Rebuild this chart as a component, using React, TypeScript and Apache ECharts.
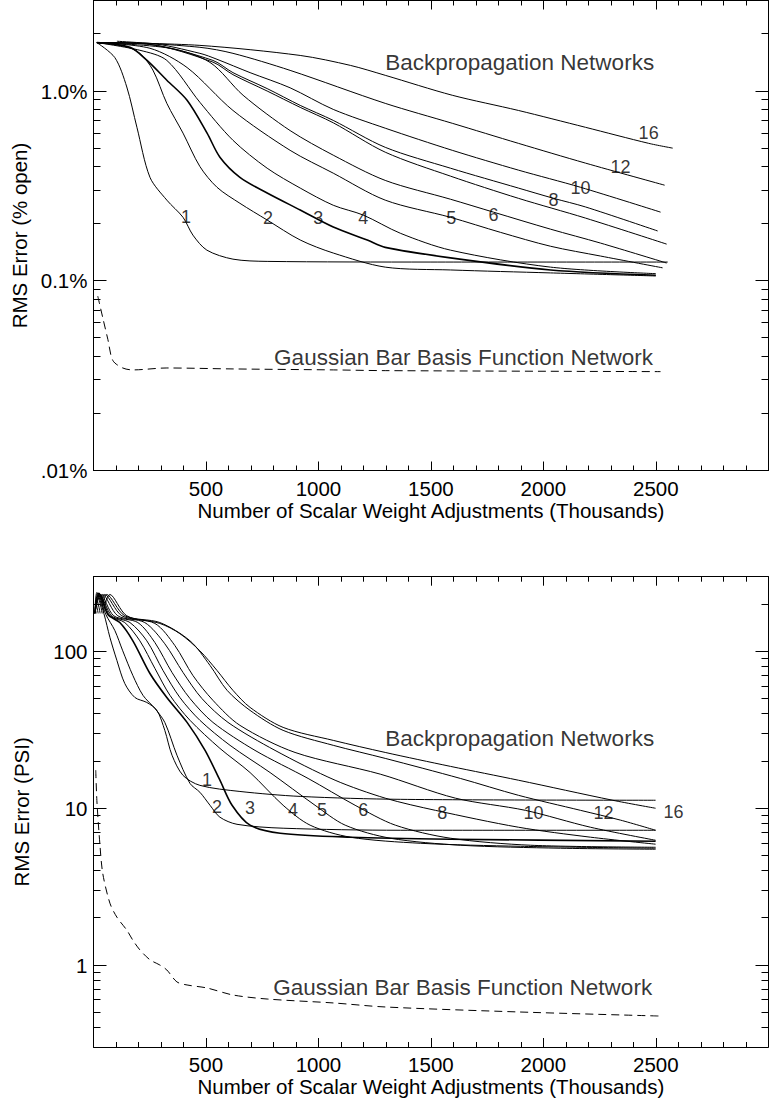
import React, { useEffect, useRef } from 'react';
import * as echarts from 'echarts';

const FONT = '"Liberation Sans", Arial, Helvetica, sans-serif';
const X_TITLE = 'Number of Scalar Weight Adjustments (Thousands)';

// ---------- tick labels / tick values ----------
const xTickLabels = [500, 1000, 1500, 2000, 2500];
const topYDecades = [0.01, 0.1, 1];
const topYLabels = ['.01%', '0.1%', '1.0%'];
const bottomYDecades = [1, 10, 100];
const bottomYLabels = ['1', '10', '100'];
const topYMinor = [0.02, 0.03, 0.04, 0.05, 0.06, 0.07, 0.08, 0.09, 0.2, 0.3, 0.4, 0.5, 0.6, 0.7, 0.8, 0.9, 2];
const bottomYMinor = [0.4, 0.5, 0.6, 0.7, 0.8, 0.9, 2, 3, 4, 5, 6, 7, 8, 9, 20, 30, 40, 50, 60, 70, 80, 90, 200];

// ---------- top panel: RMS error (% open) vs thousands of weight adjustments ----------
const topN1 = [[15, 1.8], [95, 1.5], [148, 1.05], [193, 0.644], [251, 0.351], [326, 0.266], [398, 0.216], [442, 0.174], [504, 0.145], [620, 0.13], [772, 0.1265], [1500, 0.1255], [2553, 0.1255]];
const topN2 = [[15, 1.8], [139, 1.72], [206, 1.58], [264, 1.29], [326, 0.861], [398, 0.6], [473, 0.4], [549, 0.311], [651, 0.256], [772, 0.209], [919, 0.164], [1066, 0.14], [1297, 0.118], [1587, 0.114], [2032, 0.11], [2500, 0.106]];
const topN3 = [[15, 1.8], [162, 1.7], [238, 1.45], [326, 1.14], [416, 0.894], [505, 0.6], [562, 0.448], [651, 0.351], [772, 0.29], [919, 0.236], [1066, 0.192], [1217, 0.164], [1297, 0.15], [1587, 0.132], [2032, 0.114], [2500, 0.107]];
const topN4 = [[15, 1.8], [206, 1.64], [326, 1.45], [473, 0.872], [620, 0.55], [772, 0.392], [919, 0.308], [1066, 0.25], [1199, 0.222], [1364, 0.178], [1587, 0.145], [2032, 0.118], [2500, 0.109]];
const topN5 = [[15, 1.8], [251, 1.68], [416, 1.33], [620, 0.79], [874, 0.487], [1066, 0.369], [1297, 0.266], [1587, 0.216], [1809, 0.18], [2032, 0.152], [2254, 0.135], [2530, 0.117]];
const topN6 = [[15, 1.8], [340, 1.68], [518, 1.415], [665, 0.95], [874, 0.619], [1066, 0.459], [1297, 0.338], [1587, 0.269], [1778, 0.23], [2032, 0.187], [2254, 0.158], [2548, 0.124]];
const topN7 = [[15, 1.8], [251, 1.76], [531, 1.42], [620, 1.22], [772, 1.0], [919, 0.82], [1066, 0.68], [1297, 0.476], [1587, 0.356], [1889, 0.272], [2187, 0.214], [2548, 0.156]];
const topN8 = [[15, 1.8], [251, 1.76], [531, 1.45], [620, 1.25], [772, 1.03], [919, 0.84], [1066, 0.7], [1297, 0.505], [1587, 0.392], [1889, 0.308], [2045, 0.272], [2187, 0.245], [2508, 0.183]];
const topN10 = [[15, 1.8], [251, 1.78], [473, 1.58], [549, 1.47], [696, 1.25], [874, 1.04], [1066, 0.8], [1297, 0.637], [1595, 0.487], [1889, 0.383], [2165, 0.311], [2521, 0.23]];
const topN12 = [[104, 1.83], [473, 1.7], [620, 1.58], [874, 1.285], [1297, 0.861], [1595, 0.676], [1889, 0.53], [2187, 0.417], [2539, 0.319]];
const topN16 = [[73, 1.8], [473, 1.74], [919, 1.54], [1142, 1.365], [1297, 1.21], [1595, 0.95], [1889, 0.79], [2187, 0.644], [2468, 0.53], [2575, 0.5]];
const topGauss = [[19, 0.083], [41, 0.064], [64, 0.049], [86, 0.038], [130, 0.0347], [175, 0.0339], [326, 0.0347], [620, 0.0343], [1066, 0.0339], [1297, 0.0336], [2521, 0.0332]];

// ---------- bottom panel: RMS error (PSI) ----------
const botN1 = [[6, 175], [15, 238], [46, 175], [73, 123], [104, 87.7], [139, 62.5], [184, 50.9], [237, 47.3], [282, 42.1], [317, 31.4], [349, 21.8], [398, 16.2], [473, 14.0], [651, 12.8], [919, 11.9], [1364, 11.4], [2499, 11.25]];
const botN2 = [[6, 175], [19, 235], [55, 172], [95, 136], [130, 101], [175, 70.3], [220, 52.5], [273, 43.3], [317, 35.3], [371, 21.8], [429, 14.4], [473, 12.65], [518, 10.45], [562, 8.77], [638, 7.9], [843, 7.46], [1364, 7.24], [2499, 7.24]];
const botN3 = [[6, 175], [24, 235], [64, 172], [117, 153], [175, 117], [251, 72.4], [326, 50.9], [416, 35.3], [496, 23.4], [562, 15.1], [616, 10.45], [696, 7.8], [830, 6.93], [1142, 6.54], [1587, 6.35], [2499, 6.16]];
const botN4 = [[6, 175], [28, 231], [73, 169], [139, 153], [206, 117], [273, 78], [340, 52.5], [429, 36.4], [562, 24.1], [696, 16.9], [843, 10.45], [963, 7.8], [1142, 6.54], [1453, 5.98], [1898, 5.72], [2499, 5.56]];
const botN5 = [[6, 175], [28, 231], [81, 169], [162, 153], [237, 117], [309, 75.7], [384, 50.9], [473, 36.4], [607, 25.2], [785, 16.9], [985, 10.45], [1119, 7.8], [1320, 6.44], [1631, 5.81], [2076, 5.56], [2499, 5.48]];
const botN6 = [[6, 175], [33, 231], [90, 169], [197, 153], [273, 114], [349, 73.5], [429, 50.1], [531, 35.3], [718, 23.4], [954, 15.5], [1163, 10.45], [1342, 7.8], [1587, 6.44], [1943, 5.81], [2499, 5.64]];
const botN8 = [[15, 175], [41, 231], [108, 169], [228, 153], [317, 112], [398, 73.5], [482, 50.1], [598, 35.3], [807, 23.4], [1074, 15.1], [1297, 11.6], [1520, 9.7], [1889, 7.57], [2209, 6.54], [2499, 5.9]];
const botN10 = [[24, 175], [50, 231], [126, 169], [273, 151], [362, 109], [442, 70.3], [531, 48.8], [651, 33.8], [896, 22.7], [1275, 16.5], [1609, 11.6], [1920, 9.7], [2209, 7.57], [2499, 6.25]];
const botN12 = [[33, 175], [59, 231], [139, 169], [295, 153], [429, 117], [518, 81.5], [594, 56.5], [696, 42.1], [843, 31.4], [1066, 25.2], [1297, 20.8], [1631, 15.5], [1889, 12.1], [2165, 9.7], [2343, 8.4], [2499, 7.24]];
const botN16 = [[41, 175], [73, 231], [148, 169], [295, 151], [384, 130], [473, 101], [549, 75.7], [620, 56.5], [696, 44.0], [843, 32.8], [1066, 27.1], [1297, 22.7], [1587, 18.5], [1889, 15.1], [2308, 11.25], [2499, 10.0]];
const botGauss = [[10, 17.5], [15, 11.2], [28, 6.0], [41, 3.85], [73, 2.48], [104, 2.02], [148, 1.67], [175, 1.44], [206, 1.25], [251, 1.08], [295, 1.0], [326, 0.93], [371, 0.78], [416, 0.746], [504, 0.714], [620, 0.644], [772, 0.607], [1066, 0.573], [1297, 0.54], [1889, 0.502], [2512, 0.473]];

const topCurves = [topN1, topN2, topN3, topN4, topN5, topN6, topN7, topN8, topN10, topN12, topN16];
const topThick = [false, false, true, false, false, false, false, false, false, false, false];
const botCurves = [botN1, botN2, botN3, botN4, botN5, botN6, botN8, botN10, botN12, botN16];
const botThick = [false, false, true, false, false, false, false, false, false, false];

// ---------- annotations (anchor in data units) ----------
const topCurveNames = ['1', '2', '3', '4', '5', '6', '8', '10', '12', '16'];
const topCurveNameAt = [[411, 0.216], [776, 0.214], [999, 0.214], [1199, 0.214], [1591, 0.214], [1778, 0.222], [2045, 0.266], [2165, 0.308], [2343, 0.397], [2468, 0.6]];
const botCurveNames = ['1', '2', '3', '4', '5', '6', '8', '10', '12', '16'];
const botCurveNameAt = [[505, 15.1], [549, 10.15], [696, 10.0], [887, 9.7], [1016, 9.7], [1199, 9.7], [1551, 9.3], [1956, 9.3], [2267, 9.3], [2579, 9.45]];
const groupTitles = ['Backpropagation Networks', 'Gaussian Bar Basis Function Network'];
const topTitleAt = [[1297, 1.416], [803, 0.0392]];
const botTitleAt = [[1297, 27.9], [799, 0.724]];

const BLACK = '#000';
const X_MIN = 0;
const X_MAX = 3000;
const PX_PER_X = 674.8 / 3000;

function xAxes(gi: number) {
  const base: any = {
    gridIndex: gi, type: 'value', min: X_MIN, max: X_MAX, interval: 500,
    axisLine: { show: true, onZero: false, lineStyle: { color: BLACK, width: 1 } },
    axisTick: { show: true, inside: true, length: 9, lineStyle: { color: BLACK, width: 1 } },
    minorTick: { show: true, splitNumber: 5, length: 5, lineStyle: { color: BLACK, width: 1 } },
    splitLine: { show: false }, minorSplitLine: { show: false },
  };
  return [
    {
      ...base, position: 'bottom',
      axisLabel: {
        show: true, margin: 7, color: BLACK, fontSize: 20.5, fontFamily: FONT,
        formatter: (v: number) => (xTickLabels.indexOf(Math.round(v)) >= 0 ? String(Math.round(v)) : ''),
      },
      name: X_TITLE, nameLocation: 'middle', nameGap: 29,
      nameTextStyle: { color: BLACK, fontSize: 20.5, fontFamily: FONT },
    },
    { ...base, position: 'top', axisLabel: { show: false } },
  ];
}

function yAxes(gi: number, min: number, max: number, decades: number[], labels: string[], name: string) {
  const fmt = (v: number) => {
    for (let i = 0; i < decades.length; i++) {
      if (Math.abs(Math.log10(v) - Math.log10(decades[i])) < 1e-6) return labels[i];
    }
    return '';
  };
  const base: any = {
    gridIndex: gi, type: 'log', logBase: 10, min, max,
    axisLine: { show: true, onZero: false, lineStyle: { color: BLACK, width: 1 } },
    axisTick: { show: false }, minorTick: { show: false },
    splitLine: { show: false }, minorSplitLine: { show: false },
  };
  return [
    {
      ...base, position: 'left',
      axisLabel: { show: true, margin: 6, color: BLACK, fontSize: 20.5, fontFamily: FONT, formatter: fmt },
      name, nameLocation: 'middle', nameGap: 62,
      nameTextStyle: { color: BLACK, fontSize: 20.5, fontFamily: FONT },
    },
    { ...base, position: 'right', axisLabel: { show: false } },
  ];
}

// y-axis tick marks (log spaced), placed with the chart's own scale via convertToPixel
function yTickGraphics(chart: any, xi: number, yi: number, yMajor: number[], yMinor: number[]) {
  const finder = { xAxisIndex: xi, yAxisIndex: yi };
  const crisp = (p: number) => Math.round(p - 0.5) + 0.5;
  const out: any[] = [];
  const yt = (v: number, len: number) => {
    const l = chart.convertToPixel(finder, [X_MIN, v]);
    const r = chart.convertToPixel(finder, [X_MAX, v]);
    if (!l || !r) return;
    const y = crisp(l[1]);
    const xl = crisp(l[0]);
    const xr = crisp(r[0]);
    out.push({ type: 'line', silent: true, z: 100, shape: { x1: xl, y1: y, x2: xl + len, y2: y }, style: { stroke: BLACK, lineWidth: 1 } });
    out.push({ type: 'line', silent: true, z: 100, shape: { x1: xr, y1: y, x2: xr - len, y2: y }, style: { stroke: BLACK, lineWidth: 1 } });
  };
  yMajor.forEach((v) => yt(v, 13));
  yMinor.forEach((v) => yt(v, 7));
  return out;
}

// fallback: the same ticks as markLine segments in data coordinates
function yTickMarkLine(yMajor: number[], yMinor: number[]) {
  const data: any[] = [];
  const yt = (v: number, len: number) => {
    const dx = len / PX_PER_X;
    data.push([{ coord: [X_MIN, v] }, { coord: [X_MIN + dx, v] }]);
    data.push([{ coord: [X_MAX, v] }, { coord: [X_MAX - dx, v] }]);
  };
  yMajor.forEach((v) => yt(v, 13));
  yMinor.forEach((v) => yt(v, 7));
  return {
    symbol: ['none', 'none'], silent: true, animation: false, label: { show: false },
    lineStyle: { color: BLACK, width: 1, type: 'solid', opacity: 1 }, emphasis: { disabled: true }, data,
  };
}

function curveSeries(curves: number[][][], thick: boolean[], xi: number, yi: number) {
  return curves.map((d, i) => ({
    type: 'line', xAxisIndex: xi, yAxisIndex: yi, data: d,
    showSymbol: false, symbol: 'none', smooth: 0.3, silent: true,
    lineStyle: { color: BLACK, width: thick[i] ? 1.6 : 1 }, z: 3,
  }));
}

function dashedSeries(d: number[][], xi: number, yi: number, markLine?: any) {
  const s: any = {
    type: 'line', xAxisIndex: xi, yAxisIndex: yi, data: d,
    showSymbol: false, symbol: 'none', smooth: 0.3, silent: true,
    lineStyle: { color: BLACK, width: 1, type: [8, 5] }, z: 3,
  };
  if (markLine) s.markLine = markLine;
  return s;
}

function labelSeries(names: string[], at: number[][], titlesAt: number[][], xi: number, yi: number) {
  const data: any[] = names.map((n, i) => ({
    name: n, value: at[i],
    label: { position: 'inside', fontSize: 18 },
  }));
  groupTitles.forEach((t, i) => {
    data.push({ name: t, value: titlesAt[i], label: { position: 'right', distance: 0, fontSize: 22.5 } });
  });
  return {
    type: 'scatter', xAxisIndex: xi, yAxisIndex: yi, symbolSize: 0, silent: true, z: 5,
    data,
    label: { show: true, formatter: '{b}', color: BLACK, fontFamily: FONT },
  };
}

function buildOption(withMarkLineTicks: boolean) {
  return {
    animation: false,
    backgroundColor: '#fff',
    textStyle: { fontFamily: FONT },
    grid: [
      { left: 93.5, top: 0.5, width: 674.8, height: 470, containLabel: false, outerBoundsMode: 'none' },
      { left: 93.5, top: 576.7, width: 674.8, height: 470.3, containLabel: false, outerBoundsMode: 'none' },
    ],
    xAxis: [...xAxes(0), ...xAxes(1)],
    yAxis: [
      ...yAxes(0, 0.01, 3, topYDecades, topYLabels, 'RMS Error (% open)'),
      ...yAxes(1, 0.3, 300, bottomYDecades, bottomYLabels, 'RMS Error (PSI)'),
    ],
    series: [
      ...curveSeries(topCurves, topThick, 0, 0),
      dashedSeries(topGauss, 0, 0, withMarkLineTicks ? yTickMarkLine(topYDecades, topYMinor) : undefined),
      labelSeries(topCurveNames, topCurveNameAt, topTitleAt, 0, 0),
      ...curveSeries(botCurves, botThick, 2, 2),
      dashedSeries(botGauss, 2, 2, withMarkLineTicks ? yTickMarkLine(bottomYDecades, bottomYMinor) : undefined),
      labelSeries(botCurveNames, botCurveNameAt, botTitleAt, 2, 2),
    ],
  };
}

export default function App() {
  const ref = useRef<HTMLDivElement>(null);
  useEffect(() => {
    const root = ref.current;
    if (!root) return;
    const chart = echarts.init(root, null, { renderer: 'svg' });
    chart.setOption(buildOption(false) as any);
    let ok = false;
    try {
      const before = root.querySelectorAll('path').length;
      const ticks = [
        ...yTickGraphics(chart, 0, 0, topYDecades, topYMinor),
        ...yTickGraphics(chart, 2, 2, bottomYDecades, bottomYMinor),
      ];
      chart.setOption({ graphic: { elements: ticks } });
      const after = root.querySelectorAll('path').length;
      ok = ticks.length > 0 && after - before >= ticks.length / 2;
    } catch (e) {
      ok = false;
    }
    if (!ok) {
      chart.setOption(buildOption(true) as any, true);
    }
    return () => chart.dispose();
  }, []);
  return (
    <div
      ref={ref}
      style={{ position: 'absolute', left: 0, top: 0, width: 770, height: 1099, background: '#fff' }}
    />
  );
}
